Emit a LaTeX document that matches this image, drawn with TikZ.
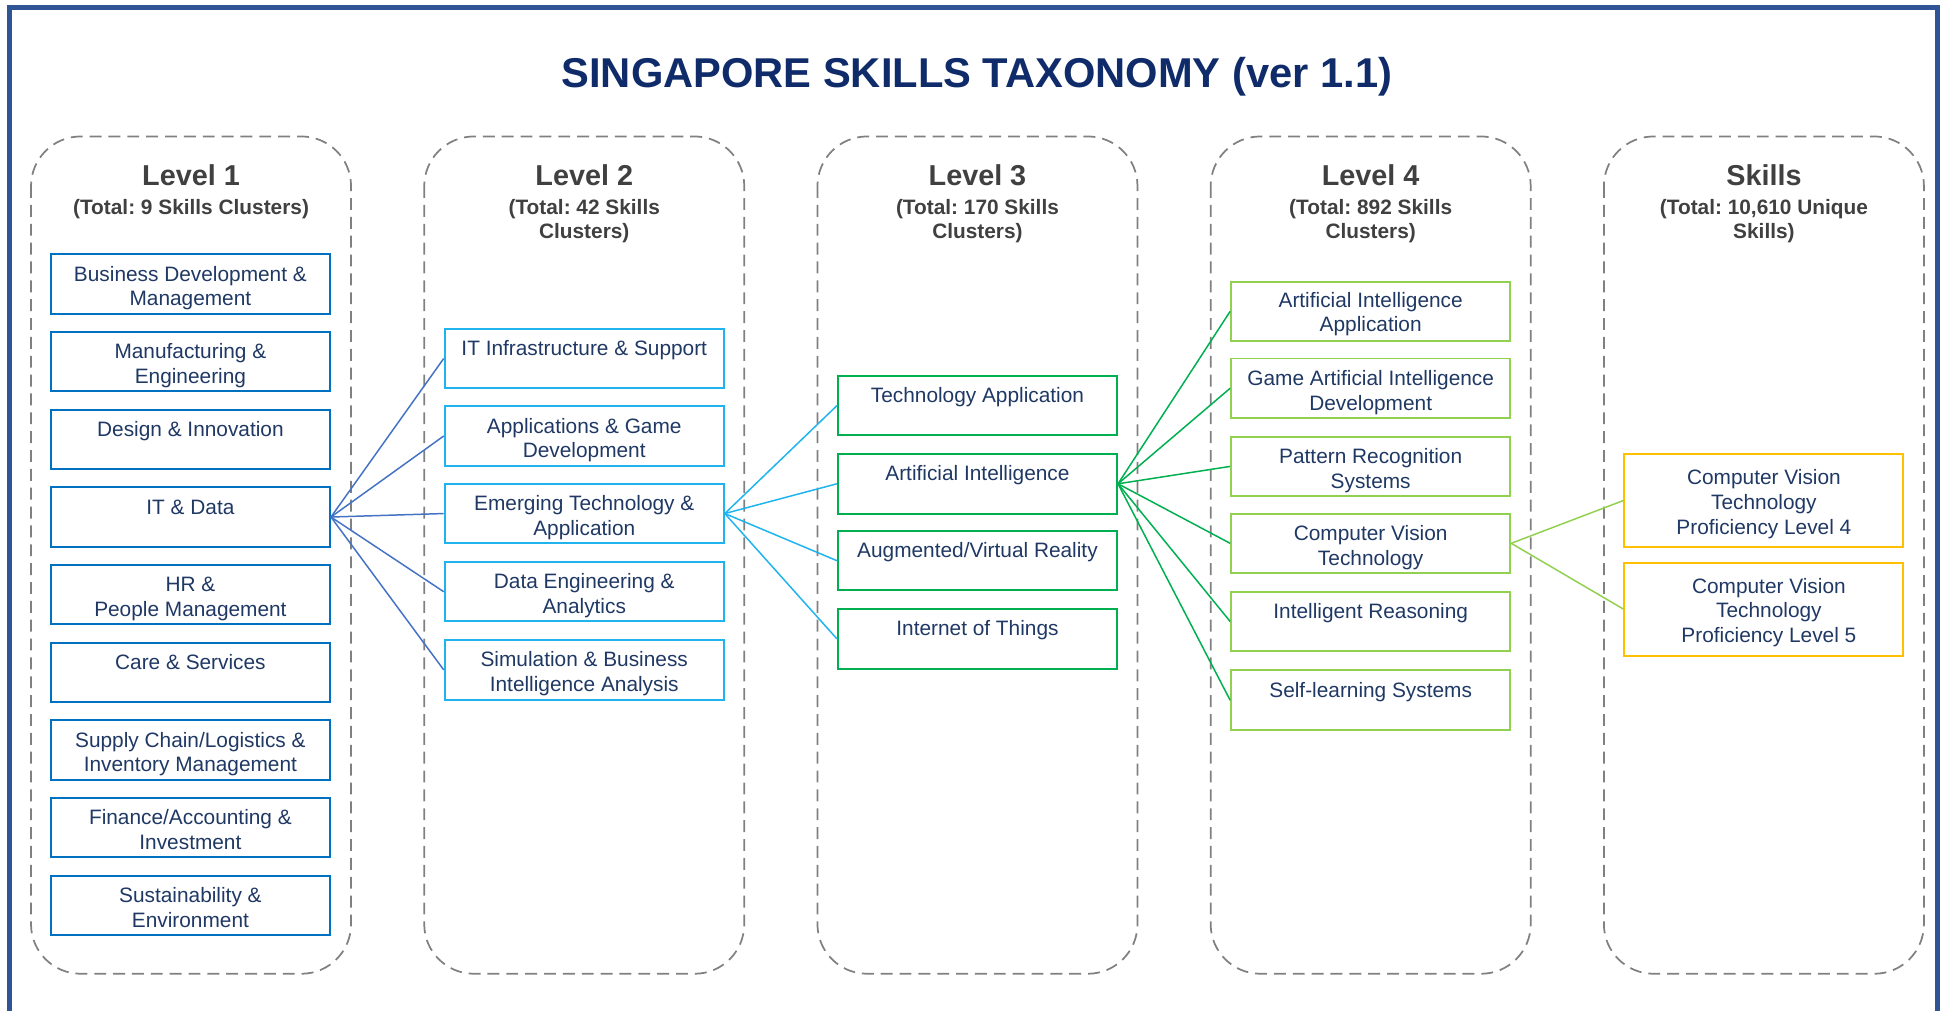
\documentclass[tikz,border=0pt]{standalone}
\usepackage{fontspec}
\setmainfont{Liberation Sans}
\frenchspacing
\definecolor{framec}{HTML}{2F5597}
\definecolor{titlec}{HTML}{0F2B69}
\definecolor{headc}{HTML}{404040}
\definecolor{textc}{HTML}{1F3864}
\definecolor{colc}{HTML}{808080}
\definecolor{lone}{HTML}{0070C0}
\definecolor{lonel}{HTML}{4472C4}
\definecolor{ltwo}{HTML}{1FB4EE}
\definecolor{lthree}{HTML}{00B050}
\definecolor{lfour}{HTML}{92D050}
\definecolor{lskill}{HTML}{FFC000}
% #1 style, #2 name, #3 position, #4 text offset from top, #5 text
\newcommand\skbox[5]{%
  \node[#1] (#2) at (#3) {};
  \node[boxtext] (#2t) at ([yshift=-#4]#2.north) {\rule{0pt}{7pt}#5};}
\begin{document}
\begin{tikzpicture}[x=0.5pt,y=-0.5pt,
  colbox/.style={draw=colc,line width=0.7pt,dash pattern=on 4.8pt off 2.8pt,rounded corners=20pt},
  basebox/.style={rectangle,minimum width=112.5pt,minimum height=24pt,line width=0.8pt,inner sep=0pt},
  boxtext/.style={anchor=north,text=textc,align=center,inner sep=0pt,font=\fontsize{8.4}{10}\selectfont},
  boxone/.style={basebox,draw=lone},
  boxtwo/.style={basebox,draw=ltwo},
  boxthree/.style={basebox,draw=lthree},
  boxfour/.style={basebox,draw=lfour},
  boxskill/.style={basebox,draw=lskill,minimum height=37.5pt},
  lvlhead/.style={text=headc,font=\fontsize{11.6}{13}\selectfont\bfseries,inner sep=0pt},
  lvlsub/.style={text=headc,font=\fontsize{8.4}{10}\selectfont\bfseries,align=center,inner sep=0pt,anchor=north},
  conone/.style={draw=lonel,line width=0.6pt},
  contwo/.style={draw=ltwo,line width=0.6pt},
  conthree/.style={draw=lthree,line width=0.6pt},
  confour/.style={draw=lfour,line width=0.6pt}
]
\useasboundingbox (0,0) rectangle (1568,815);
% outer frame (open at bottom)
\draw[framec,line width=2pt] (8,820) -- (8,6) -- (1562,6) -- (1562,820);
% title
\node[text=titlec,font=\fontsize{16.8}{20}\selectfont\bfseries,inner sep=0pt] (title) at (787.5,62) {SINGAPORE SKILLS TAXONOMY (ver 1.1)};
% columns
\draw[colbox] (25,110) rectangle (283,785);
\draw[colbox] (342,110) rectangle (600,785);
\draw[colbox] (659,110) rectangle (917,785);
\draw[colbox] (976,110) rectangle (1234,785);
\draw[colbox] (1293,110) rectangle (1551,785);
% headers
\node[lvlhead] (h1) at (154,141) {Level 1};
\node[lvlhead] (h2) at (471,141) {Level 2};
\node[lvlhead] (h3) at (788,141) {Level 3};
\node[lvlhead] (h4) at (1105,141) {Level 4};
\node[lvlhead] (h5) at (1422,141) {Skills};
\node[lvlsub] (s1) at (154,160) {(Total: 9 Skills Clusters)};
\node[lvlsub] (s2) at (471,160) {(Total: 42 Skills\\Clusters)};
\node[lvlsub] (s3) at (788,160) {(Total: 170 Skills\\Clusters)};
\node[lvlsub] (s4) at (1105,160) {(Total: 892 Skills\\Clusters)};
\node[lvlsub] (s5) at (1422,160) {(Total: 10,610 Unique\\Skills)};
% level 1
\skbox{boxone}{a1}{153.5,229.0}{4pt}{Business Development \&\\Management}
\skbox{boxone}{a2}{153.5,291.6}{4pt}{Manufacturing \&\\Engineering}
\skbox{boxone}{a3}{153.5,354.2}{4pt}{Design \& Innovation}
\skbox{boxone}{a4}{153.5,416.8}{4pt}{IT \& Data}
\skbox{boxone}{a5}{153.5,479.4}{4pt}{HR \&\\People Management}
\skbox{boxone}{a6}{153.5,542.0}{4pt}{Care \& Services}
\skbox{boxone}{a7}{153.5,604.6}{4pt}{Supply Chain/Logistics \&\\Inventory Management}
\skbox{boxone}{a8}{153.5,667.2}{4pt}{Finance/Accounting \&\\Investment}
\skbox{boxone}{a9}{153.5,729.8}{4pt}{Sustainability \&\\Environment}
% level 2
\skbox{boxtwo}{b1}{471,289}{4pt}{IT Infrastructure \& Support}
\skbox{boxtwo}{b2}{471,351.5}{4pt}{Applications \& Game\\Development}
\skbox{boxtwo}{b3}{471,414}{4pt}{Emerging Technology \&\\Application}
\skbox{boxtwo}{b4}{471,477}{4pt}{Data Engineering \&\\Analytics}
\skbox{boxtwo}{b5}{471,540}{4pt}{Simulation \& Business\\Intelligence Analysis}
% level 3
\skbox{boxthree}{c1}{788,327}{4pt}{Technology Application}
\skbox{boxthree}{c2}{788,390}{4pt}{Artificial Intelligence}
\skbox{boxthree}{c3}{788,452}{4pt}{Augmented/Virtual Reality}
\skbox{boxthree}{c4}{788,515}{4pt}{Internet of Things}
% level 4
\skbox{boxfour}{d1}{1105,251}{3.5pt}{Artificial Intelligence\\Application}
\skbox{boxfour}{d2}{1105,313}{4pt}{Game Artificial Intelligence\\Development}
\skbox{boxfour}{d3}{1105,376}{4pt}{Pattern Recognition\\Systems}
\skbox{boxfour}{d4}{1105,438}{4pt}{Computer Vision\\Technology}
\skbox{boxfour}{d5}{1105,501}{4pt}{Intelligent Reasoning}
\skbox{boxfour}{d6}{1105,564.5}{4pt}{Self-learning Systems}
% skills
\skbox{boxskill}{e1}{1422,403.5}{5.5pt}{Computer Vision\\Technology\\Proficiency Level 4}
\node[boxskill] (e2) at (1422,491) {};
\node[boxtext] (e2t) at ([xshift=2pt,yshift=-5.5pt]e2.north) {\rule{0pt}{7pt}Computer Vision\\Technology\\Proficiency Level 5};
% connectors
\foreach \t in {b1,b2,b3,b4,b5} \draw[conone] (a4.east) -- (\t.west);
\foreach \t in {c1,c2,c3,c4} \draw[contwo] (b3.east) -- (\t.west);
\foreach \t in {d1,d2,d3,d4,d5,d6} \draw[conthree] (c2.east) -- (\t.west);
\foreach \t in {e1,e2} \draw[confour] (d4.east) -- (\t.west);
\end{tikzpicture}
\end{document}
